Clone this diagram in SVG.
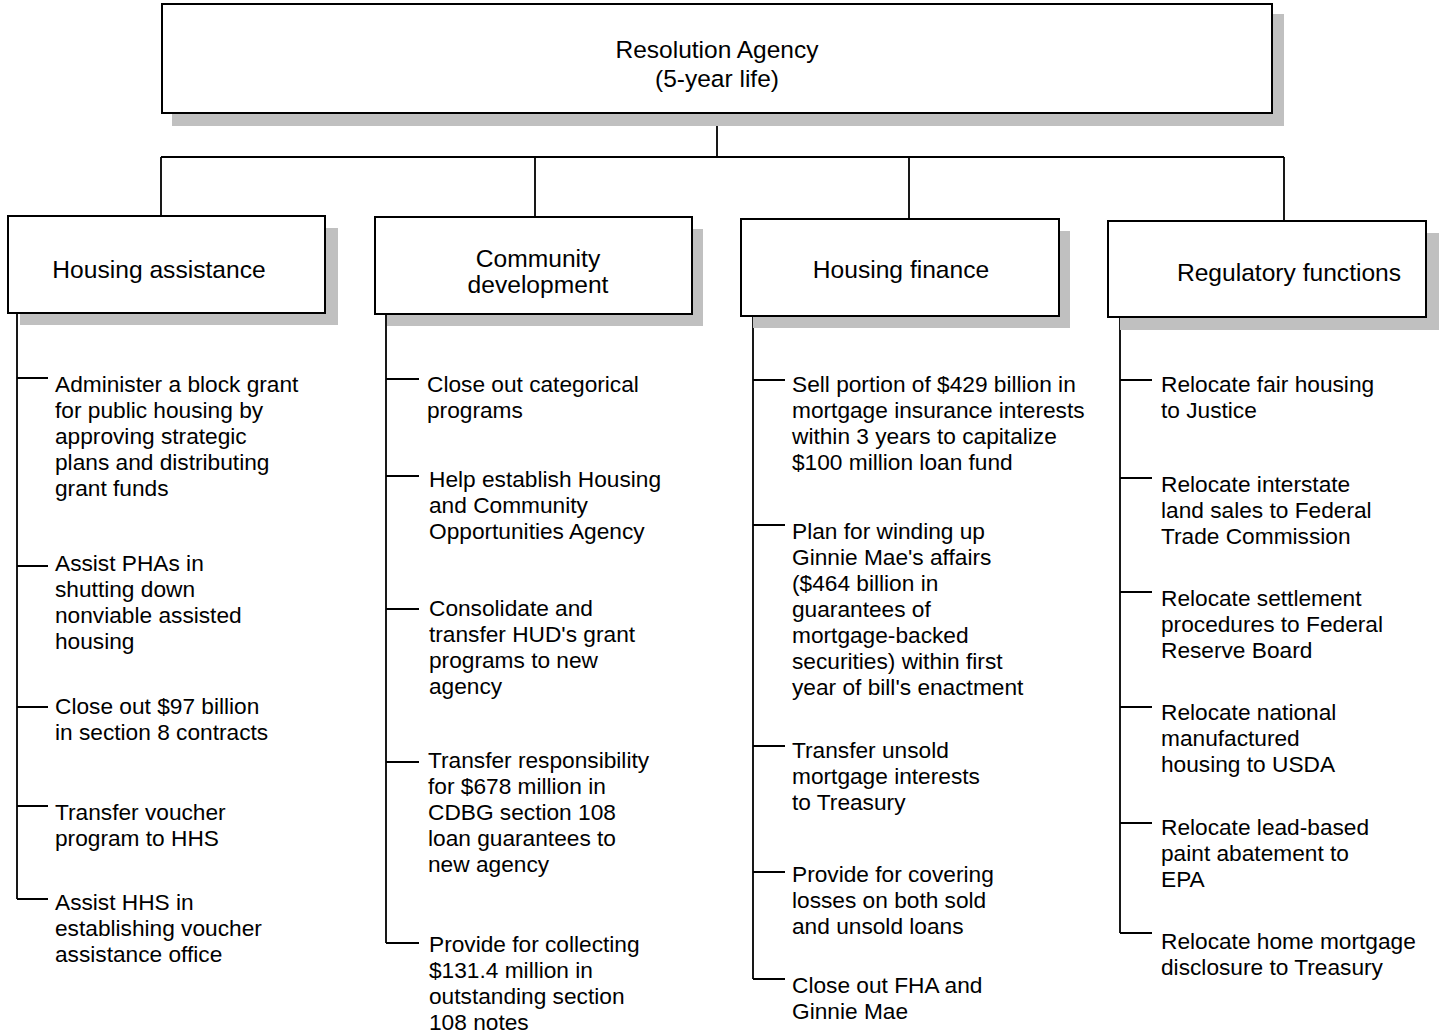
<svg xmlns="http://www.w3.org/2000/svg" width="1439" height="1035" viewBox="0 0 1439 1035">
<style>
.shadow{fill:#c0c0c0;stroke:none}
.box{fill:#fff;stroke:#000;stroke-width:2}
.ln{stroke:#000;stroke-width:1.8;fill:none}
.title{font-family:"Liberation Sans",Arial,sans-serif;font-size:24.5px;fill:#000;text-anchor:middle}
.cat{font-family:"Liberation Sans",Arial,sans-serif;font-size:24.6px;fill:#000;text-anchor:middle}
.item{font-family:"Liberation Sans",Arial,sans-serif;font-size:22.7px;fill:#000}
</style>
<rect width="1439" height="1035" fill="#fff"/>
<g id="connectors">
<path class="ln" d="M717 114V157M161 157H1284M161 157V216M535 157V217M909 157V219M1284 157V221"/>
<path class="ln" d="M17 313V899M17 378H48M17 566H48M17 707H48M17 806H48M17 899H48"/>
<path class="ln" d="M386 314V943M386 379H419M386 476H419M386 609H419M386 762H419M386 943H419"/>
<path class="ln" d="M753 316V979M753 380H785M753 525H785M753 746H785M753 872H785M753 979H785"/>
<path class="ln" d="M1120 317V933M1120 380H1152M1120 478H1152M1120 592H1152M1120 707H1152M1120 823H1152M1120 933H1152"/>
</g>
<g id="root">
<rect class="shadow" x="172" y="14" width="1112" height="112"/>
<rect class="box" x="162" y="4" width="1110" height="109"/>
<text class="title" x="717" y="58">Resolution Agency</text>
<text class="title" x="717" y="87">(5-year life)</text>
</g>
<g id="housing-assistance">
<rect class="shadow" x="20" y="228" width="318" height="97"/>
<rect class="box" x="8" y="216" width="317" height="97"/>
<text class="cat" x="159" y="278">Housing assistance</text>
</g>
<g id="community-development">
<rect class="shadow" x="387" y="229" width="316" height="97"/>
<rect class="box" x="375" y="217" width="317" height="97"/>
<text class="cat" x="538" y="267">Community</text>
<text class="cat" x="538" y="293">development</text>
</g>
<g id="housing-finance">
<rect class="shadow" x="753" y="231" width="317" height="97"/>
<rect class="box" x="741" y="219" width="318" height="97"/>
<text class="cat" x="901" y="278">Housing finance</text>
</g>
<g id="regulatory-functions">
<rect class="shadow" x="1120" y="233" width="319" height="97"/>
<rect class="box" x="1108" y="221" width="318" height="96"/>
<text class="cat" x="1289" y="281">Regulatory functions</text>
</g>
<g id="ha-items" class="item">
<text x="55" y="392">Administer a block grant</text>
<text x="55" y="418">for public housing by</text>
<text x="55" y="444">approving strategic</text>
<text x="55" y="470">plans and distributing</text>
<text x="55" y="496">grant funds</text>
<text x="55" y="571">Assist PHAs in</text>
<text x="55" y="597">shutting down</text>
<text x="55" y="623">nonviable assisted</text>
<text x="55" y="649">housing</text>
<text x="55" y="714">Close out $97 billion</text>
<text x="55" y="740">in section 8 contracts</text>
<text x="55" y="820">Transfer voucher</text>
<text x="55" y="846">program to HHS</text>
<text x="55" y="910">Assist HHS in</text>
<text x="55" y="936">establishing voucher</text>
<text x="55" y="962">assistance office</text>
</g>
<g id="cd-items" class="item">
<text x="427" y="392">Close out categorical</text>
<text x="427" y="418">programs</text>
<text x="429" y="487">Help establish Housing</text>
<text x="429" y="513">and Community</text>
<text x="429" y="539">Opportunities Agency</text>
<text x="429" y="616">Consolidate and</text>
<text x="429" y="642">transfer HUD's grant</text>
<text x="429" y="668">programs to new</text>
<text x="429" y="694">agency</text>
<text x="428" y="768">Transfer responsibility</text>
<text x="428" y="794">for $678 million in</text>
<text x="428" y="820">CDBG section 108</text>
<text x="428" y="846">loan guarantees to</text>
<text x="428" y="872">new agency</text>
<text x="429" y="952">Provide for collecting</text>
<text x="429" y="978">$131.4 million in</text>
<text x="429" y="1004">outstanding section</text>
<text x="429" y="1030">108 notes</text>
</g>
<g id="hf-items" class="item">
<text x="792" y="392">Sell portion of $429 billion in</text>
<text x="792" y="418">mortgage insurance interests</text>
<text x="792" y="444">within 3 years to capitalize</text>
<text x="792" y="470">$100 million loan fund</text>
<text x="792" y="539">Plan for winding up</text>
<text x="792" y="565">Ginnie Mae's affairs</text>
<text x="792" y="591">($464 billion in</text>
<text x="792" y="617">guarantees of</text>
<text x="792" y="643">mortgage-backed</text>
<text x="792" y="669">securities) within first</text>
<text x="792" y="695">year of bill's enactment</text>
<text x="792" y="758">Transfer unsold</text>
<text x="792" y="784">mortgage interests</text>
<text x="792" y="810">to Treasury</text>
<text x="792" y="882">Provide for covering</text>
<text x="792" y="908">losses on both sold</text>
<text x="792" y="934">and unsold loans</text>
<text x="792" y="993">Close out FHA and</text>
<text x="792" y="1019">Ginnie Mae</text>
</g>
<g id="rf-items" class="item">
<text x="1161" y="392">Relocate fair housing</text>
<text x="1161" y="418">to Justice</text>
<text x="1161" y="492">Relocate interstate</text>
<text x="1161" y="518">land sales to Federal</text>
<text x="1161" y="544">Trade Commission</text>
<text x="1161" y="606">Relocate settlement</text>
<text x="1161" y="632">procedures to Federal</text>
<text x="1161" y="658">Reserve Board</text>
<text x="1161" y="720">Relocate national</text>
<text x="1161" y="746">manufactured</text>
<text x="1161" y="772">housing to USDA</text>
<text x="1161" y="835">Relocate lead-based</text>
<text x="1161" y="861">paint abatement to</text>
<text x="1161" y="887">EPA</text>
<text x="1161" y="949">Relocate home mortgage</text>
<text x="1161" y="975">disclosure to Treasury</text>
</g>
</svg>
